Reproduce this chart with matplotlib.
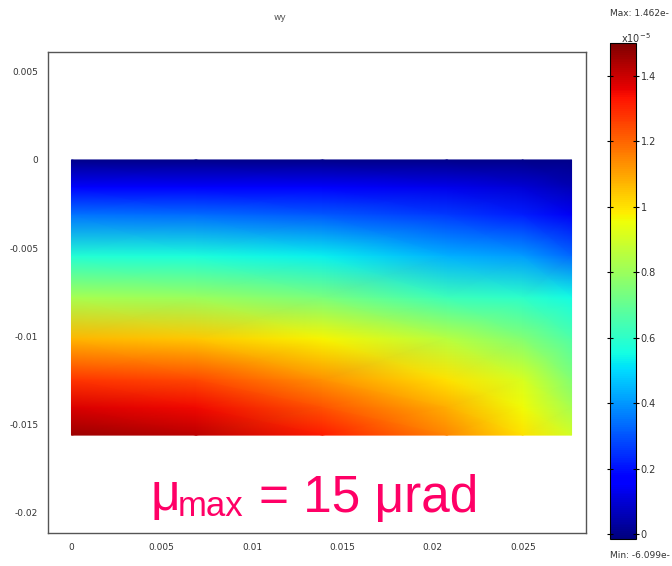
import numpy as np
import matplotlib
matplotlib.use("Agg")
import matplotlib.pyplot as plt

# wy field sampled on the block (x in m, y in m), values in units of 1e-5
x_pos = [0.0, 0.0069, 0.0139, 0.0208, 0.025, 0.0277]
y_pos = [0.0, -0.00156, -0.00312, -0.00546, -0.0078, -0.01014, -0.01248, -0.01404, -0.0156]
wy_cols = [
    [0.00, 0.18, 0.35, 0.58, 0.82, 1.07, 1.28, 1.38, 1.46],
    [0.00, 0.17, 0.34, 0.57, 0.80, 1.04, 1.25, 1.35, 1.42],
    [0.00, 0.16, 0.31, 0.53, 0.74, 0.97, 1.13, 1.23, 1.32],
    [0.00, 0.13, 0.26, 0.44, 0.63, 0.85, 1.00, 1.08, 1.15],
    [0.00, 0.10, 0.22, 0.41, 0.60, 0.76, 0.91, 0.96, 1.00],
    [0.00, 0.06, 0.14, 0.33, 0.55, 0.66, 0.76, 0.82, 0.90],
]
x_ticks = [0, 0.005, 0.01, 0.015, 0.02, 0.025]
y_ticks = [0.005, 0, -0.005, -0.01, -0.015, -0.02]
cbar_ticks = [0, 0.2, 0.4, 0.6, 0.8, 1.0, 1.2, 1.4]
wy_min, wy_max = -0.015, 1.50

W, H = 672, 566

plt.rcParams['font.family'] = ['DejaVu Sans']

fig = plt.figure(figsize=(W / 100, H / 100), dpi=100)
ax = fig.add_axes([48 / W, 1 - 533 / H, 538 / W, 481 / H])

X, Y = np.meshgrid(x_pos, y_pos)
Z = np.array(wy_cols).T
mesh = ax.pcolormesh(X, Y, Z, shading='gouraud', cmap='jet', vmin=wy_min, vmax=wy_max,
                     antialiased=False)

ax.set_xlim(-0.0013, 0.0285)
ax.set_ylim(-0.02115, 0.00612)
ax.set_xticks(x_ticks)
ax.set_xticklabels(['%g' % t for t in x_ticks])
ax.set_yticks(y_ticks)
ax.set_yticklabels(['%g' % t for t in y_ticks])
ax.tick_params(length=0, labelsize=6.5, labelcolor='#333333', pad=7)
for sp in ax.spines.values():
    sp.set_color('#555555')
    sp.set_linewidth(1.0)

# annotation: mu_max = 15 murad
pink = '#ff0066'
big = dict(color=pink, family='Liberation Sans', va='baseline', ha='left')
fig.text(150 / W, 1 - 510 / H, 'μ', fontsize=37, **big)
fig.text(178 / W, 1 - 516 / H, 'max', fontsize=25, **big)
fig.text(259 / W, 1 - 512 / H, '= 15 μrad', fontsize=37, **big)

fig.text(280 / W, 1 - 17 / H, 'wy', fontsize=6.5, color='#555555', ha='center', va='center')

# colorbar
cax = fig.add_axes([610 / W, 1 - 539 / H, 26 / W, 496 / H])
cb = fig.colorbar(mesh, cax=cax, ticks=cbar_ticks)
cb.ax.set_yticklabels(['%g' % t for t in cbar_ticks])
cb.ax.tick_params(labelsize=7, labelcolor='#333333', direction='inout', length=5,
                  left=True, right=True, pad=1)
cb.outline.set_linewidth(0.8)

fig.text(610 / W, 1 - 14 / H, 'Max: 1.462e-', fontsize=6.5, color='#333333', va='center')
fig.text(621 / W, 1 - 38 / H, r'x10$^{-5}$', fontsize=7, color='#333333', va='center')
fig.text(610 / W, 1 - 556 / H, 'Min: -6.099e-', fontsize=6.5, color='#333333', va='center')

fig.savefig('out.png', dpi=100)
